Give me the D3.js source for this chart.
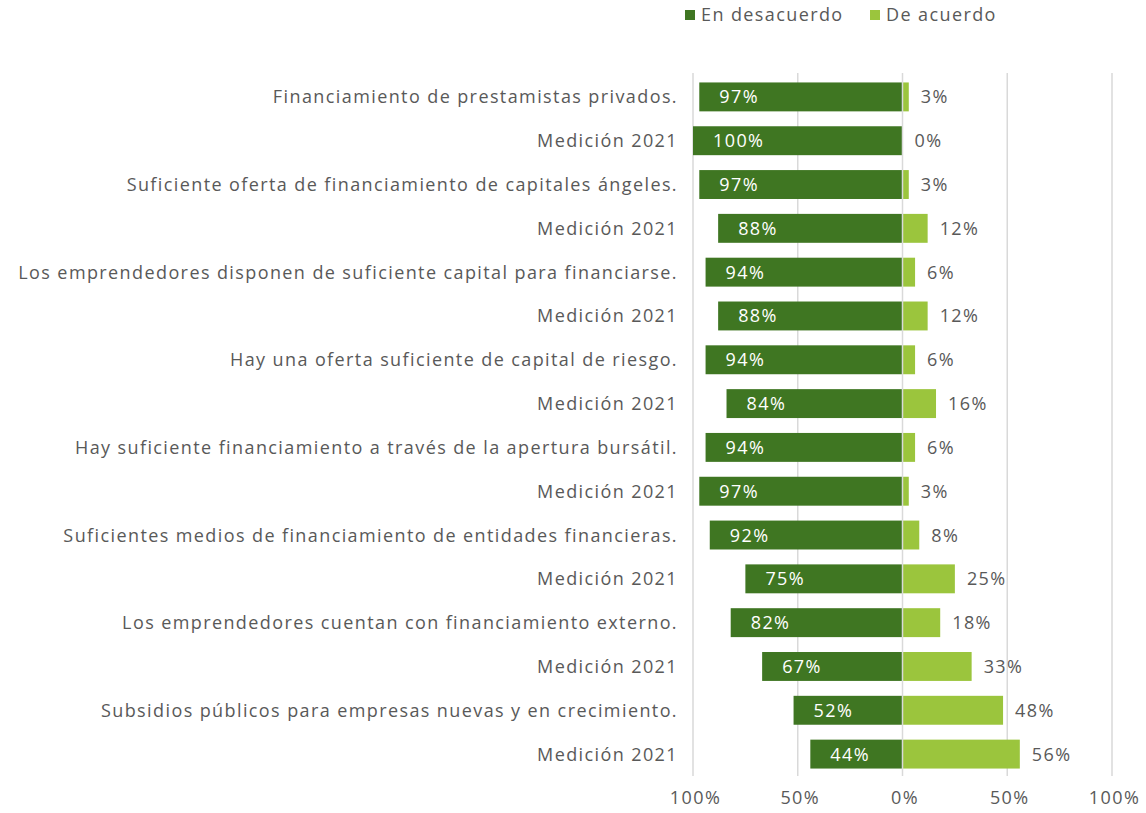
<!DOCTYPE html>
<html>
<head>
<meta charset="utf-8">
<script src="https://cdn.jsdelivr.net/npm/d3@7"></script>
<style>
  body { margin: 0; background: #fff; }
  text { font-family: "Open Sans", sans-serif; fill: #595959; letter-spacing: 1.4px; }
</style>
</head>
<body>
<div id="chart"></div>
<script>
var categories = [
    "Financiamiento de prestamistas privados.",
    "Medición 2021",
    "Suficiente oferta de financiamiento de capitales ángeles.",
    "Medición 2021",
    "Los emprendedores disponen de suficiente capital para financiarse.",
    "Medición 2021",
    "Hay una oferta suficiente de capital de riesgo.",
    "Medición 2021",
    "Hay suficiente financiamiento a través de la apertura bursátil.",
    "Medición 2021",
    "Suficientes medios de financiamiento de entidades financieras.",
    "Medición 2021",
    "Los emprendedores cuentan con financiamiento externo.",
    "Medición 2021",
    "Subsidios públicos para empresas nuevas y en crecimiento.",
    "Medición 2021"
];
var desacuerdo = [97, 100, 97, 88, 94, 88, 94, 84, 94, 97, 92, 75, 82, 67, 52, 44];
var deAcuerdo = [3, 0, 3, 12, 6, 12, 6, 16, 6, 3, 8, 25, 18, 33, 48, 56];
var tickValues = [-100, -50, 0, 50, 100];
var seriesNames = ["En desacuerdo", "De acuerdo"];

var width = 1146;
var height = 813;
var darkGreen = "#3f7622";
var lightGreen = "#9bc53d";
var gridColor = "#d9d9d9";
var fontSize = "18px";

var svg = d3.select("#chart").append("svg")
    .attr("width", width)
    .attr("height", height);

var x = d3.scaleLinear()
    .domain([-100, 100])
    .range([693, 1112]);

var y = d3.scaleBand()
    .domain(d3.range(categories.length))
    .range([75, 776])
    .paddingInner(0.34)
    .paddingOuter(0.17);

// gridlines
svg.append("g")
    .selectAll("line")
    .data(tickValues.filter(d => d != 0))
    .enter().append("line")
    .attr("x1", d => x(d)).attr("x2", d => x(d))
    .attr("y1", 73).attr("y2", 776)
    .attr("stroke", gridColor)
    .attr("stroke-width", 1.5);

// bars
var rows = svg.append("g").selectAll("g")
    .data(categories)
    .enter().append("g");

rows.append("rect")
    .attr("x", (d, i) => x(-desacuerdo[i]))
    .attr("y", (d, i) => y(i))
    .attr("width", (d, i) => x(0) - x(-desacuerdo[i]))
    .attr("height", y.bandwidth())
    .attr("fill", darkGreen);

rows.append("rect")
    .attr("x", x(0))
    .attr("y", (d, i) => y(i))
    .attr("width", (d, i) => x(deAcuerdo[i]) - x(0))
    .attr("height", y.bandwidth())
    .attr("fill", lightGreen);

// zero line on top
svg.append("line")
    .attr("x1", x(0)).attr("x2", x(0))
    .attr("y1", 73).attr("y2", 776)
    .attr("stroke", gridColor)
    .attr("stroke-width", 1.5);

// value labels
rows.append("text")
    .attr("x", (d, i) => x(-desacuerdo[i]) + 20)
    .attr("y", (d, i) => y(i) + y.bandwidth() / 2)
    .attr("dy", "0.36em")
    .style("fill", "#fff")
    .style("font-size", fontSize)
    .text((d, i) => desacuerdo[i] + "%");

rows.append("text")
    .attr("x", (d, i) => x(deAcuerdo[i]) + 12)
    .attr("y", (d, i) => y(i) + y.bandwidth() / 2)
    .attr("dy", "0.36em")
    .style("font-size", fontSize)
    .text((d, i) => deAcuerdo[i] + "%");

// category labels
rows.append("text")
    .attr("x", 678)
    .attr("y", (d, i) => y(i) + y.bandwidth() / 2)
    .attr("dy", "0.36em")
    .attr("text-anchor", "end")
    .style("font-size", fontSize)
    .text(d => d);

// x axis
var xAxis = d3.axisBottom(x)
    .tickValues(tickValues)
    .tickSize(0)
    .tickFormat(d => Math.abs(d) + "%");

var ax = svg.append("g")
    .attr("transform", "translate(0, 790)")
    .call(xAxis);
ax.select(".domain").remove();
ax.selectAll("text")
    .style("font-size", fontSize)
    .style("font-family", "'Open Sans', sans-serif")
    .attr("fill", "#595959")
    .attr("dx", "2")
    .attr("dy", "0.6em");

// legend
var legend = svg.append("g").attr("transform", "translate(685, 15)");
var legendX = [0, 185];
seriesNames.forEach(function(name, i) {
    var g = legend.append("g").attr("transform", `translate(${legendX[i]}, 0)`);
    g.append("rect")
        .attr("x", 0).attr("y", -5)
        .attr("width", 10).attr("height", 10)
        .attr("fill", i == 0 ? darkGreen : lightGreen);
    g.append("text")
        .attr("x", 16).attr("y", 0)
        .attr("dy", "0.36em")
        .style("font-size", fontSize)
        .text(name);
});
</script>
</body>
</html>
